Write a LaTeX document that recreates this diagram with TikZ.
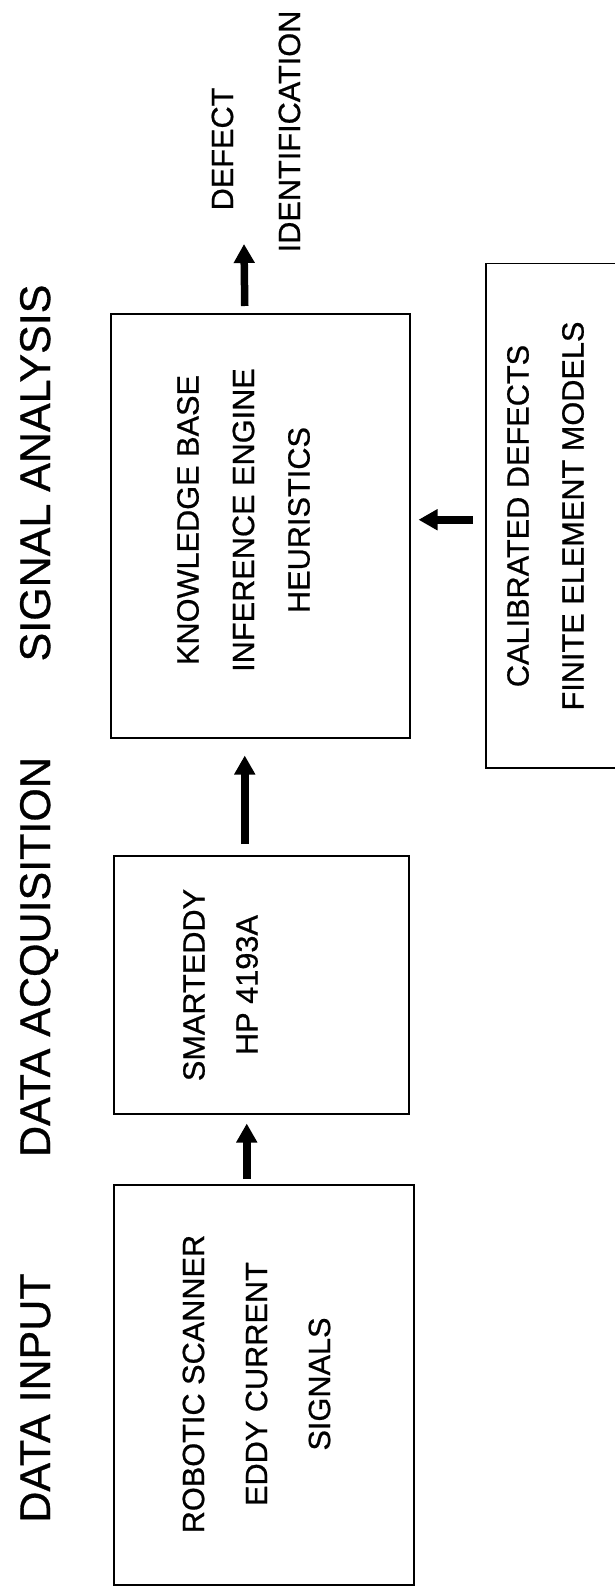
\documentclass[tikz,border=0pt]{standalone}
\usepackage{fontspec}
\setmainfont{Liberation Sans}[FakeBold=0.7]
\usetikzlibrary{arrows.meta,calc}
\begin{document}
\begin{tikzpicture}[x=1pt,y=-1pt,
  box/.style={draw, line width=1.5pt, inner sep=0pt, anchor=north west},
  boxtext/.style={rotate=90, align=center, inner sep=0pt},
  title/.style={rotate=90, anchor=base, inner sep=0pt, font=\fontsize{43}{50}\selectfont},
  lbl/.style={rotate=90, anchor=base, inner sep=0pt, font=\fontsize{30.7}{36}\selectfont},
  flow/.style={line width=7.5pt, -{Triangle[width=20pt,length=19pt]}}]
\useasboundingbox (0,0) rectangle (614,1589);
\fill[white] (0,0) rectangle (614,1589);

% titles
\node[title] (t1) at (50,1398) {DATA INPUT};
\node[title] (t2) at (50,957) {DATA ACQUISITION};
\node[title] (t3) at (50,473) {SIGNAL ANALYSIS};

% boxes
\node[box, minimum width=300pt, minimum height=400pt] (b1) at (113,1184) {};
\node[box, minimum width=295pt, minimum height=258pt] (b2) at (113,855) {};
\node[box, minimum width=299pt, minimum height=424pt] (b3) at (110,313) {};
\node[box, minimum width=140pt, minimum height=504pt] (b4) at (485,263) {};

% box texts
\node[boxtext, font=\fontsize{30.7}{63}\selectfont] (x1) at (256.5,1384) {ROBOTIC SCANNER\\EDDY CURRENT\\SIGNALS};
\node[boxtext, font=\fontsize{30.7}{53}\selectfont] (x2) at (220.5,985) {SMARTEDDY\\HP 4193A};
\node[boxtext, font=\fontsize{30.7}{55.5}\selectfont] (x3) at (243.5,520) {KNOWLEDGE BASE\\INFERENCE ENGINE\\HEURISTICS};
\node[boxtext, font=\fontsize{30.7}{55}\selectfont] (x4) at (545.5,516) {CALIBRATED DEFECTS\\FINITE ELEMENT MODELS};

% output label
\node[lbl] (d1) at (233,149) {DEFECT};
\node[lbl] (d2) at (300,131.5) {IDENTIFICATION};

% arrow end points
\coordinate (a1s) at ($(b1.north)+(-17,-5)$);
\coordinate (a1e) at ($(b2.south)+(-14.5,9)$);
\coordinate (a2s) at ($(b2.north)+(-16.5,-11)$);
\coordinate (a2e) at ($(b3.south)+(-15.5,17)$);
\coordinate (a3s) at ($(b3.north)+(-15.5,-7)$);
\coordinate (a3e) at (244,244);
\coordinate (a4s) at ($(b4.west)+(-12,4)$);
\coordinate (a4e) at ($(b3.east)+(8,-6)$);

\draw[flow] (a1s) -- (a1e);
\draw[flow] (a2s) -- (a2e);
\draw[flow] (a3s) -- (a3e);
\draw[flow] (a4s) -- (a4e);
\end{tikzpicture}
\end{document}
